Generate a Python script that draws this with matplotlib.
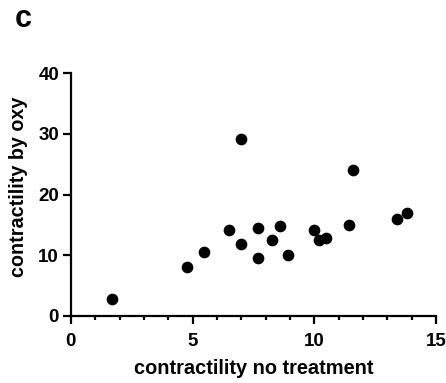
import matplotlib.pyplot as plt
from matplotlib.ticker import MultipleLocator

plt.rcParams['font.family'] = ['Liberation Sans', 'DejaVu Sans']
plt.rcParams['font.weight'] = 'bold'

no_treatment = [1.67, 4.78, 5.48, 6.49, 6.97, 6.97, 7.68, 7.68, 8.27, 8.58,
                8.90, 9.99, 10.18, 10.49, 11.40, 11.59, 13.38, 13.79]
by_oxy = [2.8, 8.05, 10.5, 14.1, 29.1, 11.9, 14.5, 9.5, 12.5, 14.85,
          10.1, 14.2, 12.5, 12.9, 14.95, 24.1, 15.9, 17.0]

fig = plt.figure(figsize=(4.46, 3.83), dpi=100)
ax = fig.add_axes([0.159, 0.175, 0.819, 0.634])

ax.plot(no_treatment, by_oxy, 'o', color='black', markersize=7.4, clip_on=False)

ax.set_xlim(0, 15)
ax.set_ylim(0, 40)
ax.xaxis.set_major_locator(MultipleLocator(5))
ax.xaxis.set_minor_locator(MultipleLocator(1))
ax.yaxis.set_major_locator(MultipleLocator(10))

for s in ['top', 'right']:
    ax.spines[s].set_visible(False)
for s in ['left', 'bottom']:
    ax.spines[s].set_linewidth(1.6)

ax.tick_params(which='major', length=6, width=1.6, labelsize=13.5)
ax.tick_params(axis='x', which='major', pad=6)
ax.tick_params(axis='y', which='major', pad=2.5)
ax.tick_params(which='minor', length=3, width=1.6)
for lbl in ax.get_xticklabels() + ax.get_yticklabels():
    lbl.set_fontweight('bold')

ax.set_xlabel('contractility no treatment', fontsize=14.4, fontweight='bold', labelpad=7)
ax.set_ylabel('contractility by oxy', fontsize=14.2, fontweight='bold')
ax.yaxis.set_label_coords(-0.118, 0.53)

fig.text(0.034, 0.929, 'c', fontsize=22, fontweight='bold')

fig.savefig('out.png', dpi=100)
